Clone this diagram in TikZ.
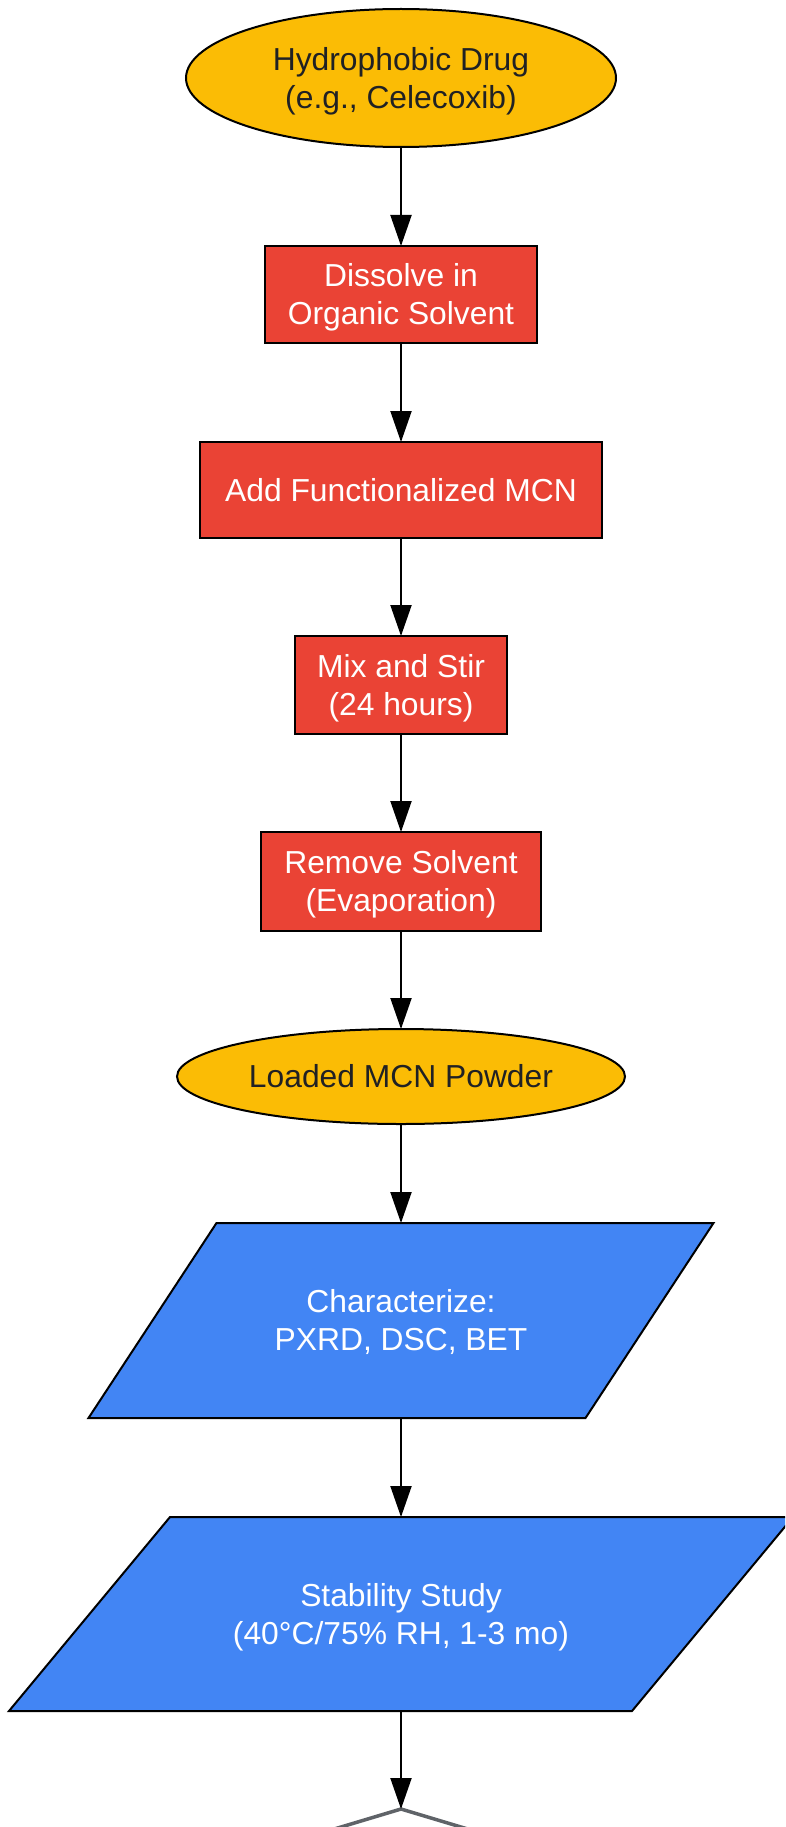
\documentclass[tikz,border=0pt]{standalone}
\usepackage{fontspec}
\setmainfont{Liberation Sans}
\usetikzlibrary{arrows.meta,shapes.geometric}
\definecolor{gyellow}{HTML}{FBBC05}
\definecolor{gred}{HTML}{EA4335}
\definecolor{gblue}{HTML}{4285F4}
\definecolor{ggray}{HTML}{5F6368}
\definecolor{gdark}{HTML}{202124}
\begin{document}
\begin{tikzpicture}[x=1pt,y=-1pt,
  every node/.style={font=\fontsize{31.8}{38}\selectfont, align=center, outer sep=0pt, inner sep=0pt},
  oneline/.style={text height=28.8pt, text depth=6.7pt},
  twolines/.style={text height=66.8pt, text depth=6.7pt},
  startend/.style={ellipse, draw=black, line width=2pt, fill=gyellow, text=gdark},
  process/.style={rectangle, draw=black, line width=2pt, fill=gred, text=white},
  io/.style={rectangle, text=white},
  iofill/.style={draw=black, line width=2pt, fill=gblue, line join=miter},
  decision/.style={diamond, draw=ggray, line width=3.5pt, fill=white},
  conn/.style={draw=black, line width=2pt, -{Triangle[length=31pt,width=21pt]}},
]
\clip (0,0) rectangle (785,1827);
\fill[white] (0,0) rectangle (785,1827);

\node[startend, twolines, minimum width=430, minimum height=138] (drug) at (401,78) {Hydrophobic Drug\\(e.g., Celecoxib)};
\node[process, twolines, minimum width=272, minimum height=97] (dissolve) at (401,294.5) {Dissolve in\\Organic Solvent};
\node[process, oneline, minimum width=402, minimum height=96] (addmcn) at (401,490) {Add Functionalized MCN};
\node[process, twolines, minimum width=212, minimum height=98] (mix) at (401,685) {Mix and Stir\\(24 hours)};
\node[process, twolines, minimum width=280, minimum height=99] (remove) at (401,881.5) {Remove Solvent\\(Evaporation)};
\node[startend, oneline, minimum width=448, minimum height=95] (loaded) at (401,1076.5) {Loaded MCN Powder};

\draw[iofill] (216.5,1223) -- (713.5,1223) -- (585.5,1418) -- (88.5,1418) -- cycle;
\node[io, twolines, minimum width=497, minimum height=195] (charac) at (401,1320.5) {Characterize:\\PXRD, DSC, BET};

\draw[iofill] (170,1517) -- (793,1517) -- (632,1711) -- (9,1711) -- cycle;
\node[io, twolines, minimum width=623, minimum height=194] (stab) at (401,1614) {Stability Study\\(40°C/75\% RH, 1-3 mo)};

\node[decision, minimum width=500, minimum height=150] (check) at (401,1884) {};

\draw[conn] (drug) -- (dissolve);
\draw[conn] (dissolve) -- (addmcn);
\draw[conn] (addmcn) -- (mix);
\draw[conn] (mix) -- (remove);
\draw[conn] (remove) -- (loaded);
\draw[conn] (loaded) -- (charac);
\draw[conn] (charac) -- (stab);
\draw[conn] (stab) -- (check);
\end{tikzpicture}
\end{document}
